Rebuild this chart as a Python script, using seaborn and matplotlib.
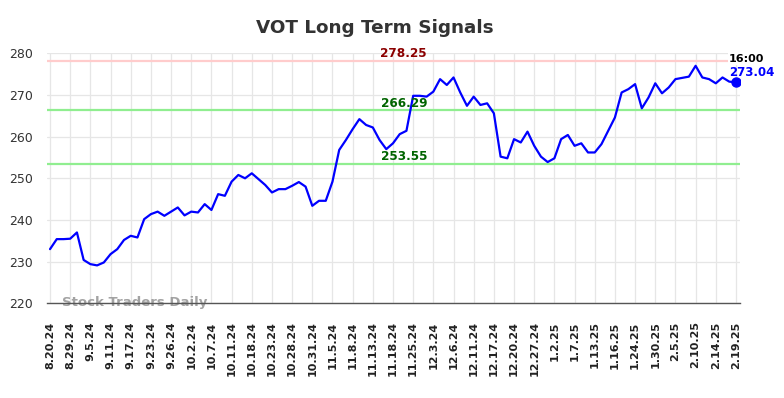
import numpy as np
import pandas as pd
import matplotlib
matplotlib.use("Agg")
import matplotlib.pyplot as plt
import seaborn as sns

# ---- data ----
tick_labels = ["8.20.24", "8.29.24", "9.5.24", "9.11.24", "9.17.24", "9.23.24", "9.26.24",
               "10.2.24", "10.7.24", "10.11.24", "10.18.24", "10.23.24", "10.28.24", "10.31.24",
               "11.5.24", "11.8.24", "11.13.24", "11.18.24", "11.25.24", "12.3.24", "12.6.24",
               "12.11.24", "12.17.24", "12.20.24", "12.27.24", "1.2.25", "1.7.25", "1.13.25",
               "1.16.25", "1.24.25", "1.30.25", "2.5.25", "2.10.25", "2.14.25", "2.19.25"]

prices = [233.0, 235.4, 235.4, 235.5, 237.0, 230.4, 229.4, 229.1, 229.8, 231.8,
          233.0, 235.2, 236.2, 235.8, 240.2, 241.4, 242.0, 241.0, 242.0, 243.0,
          241.1, 242.0, 241.8, 243.8, 242.4, 246.2, 245.8, 249.2, 250.8, 250.0,
          251.2, 249.8, 248.4, 246.6, 247.4, 247.4, 248.2, 249.1, 248.0, 243.4,
          244.6, 244.6, 249.2, 256.8, 259.2, 261.8, 264.2, 262.8, 262.2, 259.2,
          257.0, 258.4, 260.6, 261.4, 269.8, 269.8, 269.6, 270.8, 273.8, 272.4,
          274.2, 270.6, 267.4, 269.6, 267.6, 268.0, 265.6, 255.2, 254.8, 259.4,
          258.6, 261.2, 257.8, 255.2, 253.9, 254.8, 259.4, 260.4, 257.8, 258.4,
          256.2, 256.2, 258.2, 261.4, 264.6, 270.6, 271.4, 272.6, 266.8, 269.4,
          272.8, 270.4, 271.8, 273.8, 274.1, 274.4, 277.0, 274.2, 273.8, 272.8,
          274.2, 273.2, 273.04]

resistance = 278.25
support_levels = [266.29, 253.55]
last_time = "16:00"
last_label = "273.04"
title = "VOT Long Term Signals"
watermark = "Stock Traders Daily"
y_ticks = [220, 230, 240, 250, 260, 270, 280]

df = pd.DataFrame({"idx": np.arange(len(prices)), "price": prices})
tick_step = 3
tick_pos = list(range(0, len(prices), tick_step))

# ---- style ----
sns.set_style("whitegrid")
plt.rcParams["font.family"] = ["DejaVu Sans"]

fig = plt.figure(figsize=(7.84, 3.98), dpi=100)
ax = fig.add_axes([47 / 784, 1 - 303.3 / 398, (740 - 47) / 784, (303.3 - 53.3) / 398])

# horizontal level lines
ax.axhline(resistance, color="#ffcccc", lw=1.6, zorder=1)
for lv in support_levels:
    ax.axhline(lv, color="#90ee90", lw=1.6, zorder=1)

sns.lineplot(data=df, x="idx", y="price", ax=ax, color="#0000ff", lw=1.6, zorder=3)
ax.plot(df["idx"].iloc[-1], df["price"].iloc[-1], "o", color="#0000ff", ms=6.5, zorder=4)

ax.set_xlim(-0.45, len(prices) - 1 + 0.6)
ax.set_ylim(220, 280)
ax.set_yticks(y_ticks)
ax.set_xticks(tick_pos)
ax.set_xticklabels(tick_labels, rotation=90, fontsize=8, fontweight="bold", color="#222222")
ax.tick_params(axis="x", length=0, pad=13)
ax.tick_params(axis="y", length=0, pad=10, labelsize=9, labelcolor="#333333")
ax.set_xlabel("")
ax.set_ylabel("")

ax.grid(True, color="#e6e6e6", lw=0.9)
for s in ["left", "right", "top"]:
    ax.spines[s].set_visible(False)
ax.spines["bottom"].set_visible(True)
ax.spines["bottom"].set_color("#555555")
ax.spines["bottom"].set_linewidth(1.0)

# level labels
lab_x = 52.6
ax.annotate(f"{resistance:.2f}", xy=(lab_x, resistance), xytext=(0, 2.8), textcoords="offset points",
            ha="center", va="baseline", fontsize=8.7, fontweight="bold", color="#8b0000", zorder=5)
for lv in support_levels:
    ax.annotate(f"{lv:.2f}", xy=(lab_x, lv), xytext=(0, 2.2), textcoords="offset points",
                ha="center", va="baseline", fontsize=8.7, fontweight="bold", color="#006400", zorder=5)

# last value labels
lx, ly = df["idx"].iloc[-1], df["price"].iloc[-1]
ax.annotate(last_time, xy=(lx, ly), xytext=(-5, 14.5), textcoords="offset points",
            ha="left", va="baseline", fontsize=8, fontweight="bold", color="#000000",
            bbox=dict(facecolor="white", edgecolor="none", pad=0.5), zorder=6, annotation_clip=False)
ax.annotate(last_label, xy=(lx, ly), xytext=(-5, 4.3), textcoords="offset points",
            ha="left", va="baseline", fontsize=8.5, fontweight="bold", color="#0000ff",
            zorder=6, annotation_clip=False)

# watermark
ax.text(0.021, -0.011, watermark, transform=ax.transAxes, ha="left", va="baseline",
        fontsize=9.5, fontweight="bold", color="#999999", alpha=0.9, zorder=2)

# title
fig.text(375 / 784, 1 - 32.7 / 398, title, ha="center", va="baseline",
         fontsize=13.2, fontweight="bold", color="#333333")

fig.savefig("out.png", dpi=100)
